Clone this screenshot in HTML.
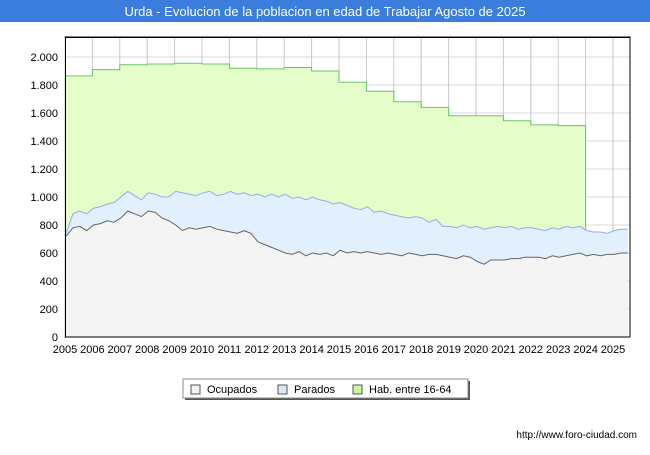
<!DOCTYPE html>
<html><head><meta charset="utf-8"><style>
body{margin:0;width:650px;height:450px;background:#fff;font-family:"Liberation Sans",sans-serif;overflow:hidden}
</style></head><body>
<svg width="650" height="450" xmlns="http://www.w3.org/2000/svg">
<rect x="0" y="0" width="650" height="22" fill="#3b7ddd"/>
<text x="325" y="16" text-anchor="middle" fill="#fff" font-size="13">Urda - Evolucion de la poblacion en edad de Trabajar Agosto de 2025</text>
<rect x="65" y="37" width="565" height="300" fill="#fff" stroke="#000"/>
<g id="grid"></g>
<g id="series"></g>
<g id="axes"></g>
<rect x="65.5" y="37.5" width="564.5" height="299.5" fill="none" stroke="#000"/>
<text x="637" y="438" text-anchor="end" font-size="10" fill="#000">http://www.foro-ciudad.com</text>
<g>
<rect x="185" y="381" width="285" height="19" fill="#555"/>
<rect x="183" y="379" width="285" height="19" fill="#fff" stroke="#888"/>
<rect x="191" y="385" width="9" height="9" fill="#f4f4f4" stroke="#555"/>
<text x="207" y="393" font-size="11">Ocupados</text>
<rect x="278" y="385" width="9" height="9" fill="#dde9fb" stroke="#555"/>
<text x="294" y="393" font-size="11">Parados</text>
<rect x="353" y="385" width="9" height="9" fill="#ccf5a0" stroke="#555"/>
<text x="369" y="393" font-size="11">Hab. entre 16-64</text>
</g>
</svg>
<script>
const years=[2005,2006,2007,2008,2009,2010,2011,2012,2013,2014,2015,2016,2017,2018,2019,2020,2021,2022,2023,2024,2025];
const habValues=[1865,1910,1945,1950,1955,1950,1920,1915,1925,1900,1820,1755,1680,1640,1580,1580,1545,1515,1510];
const activeValues=[740,880,900,880,920,930,950,960,1000,1040,1010,980,1030,1020,1000,1000,1040,1030,1020,1010,1030,1040,1010,1020,1040,1020,1030,1010,1020,1000,1020,1000,1020,990,1000,980,1000,980,970,950,960,940,920,910,930,890,900,880,870,860,850,860,850,820,840,790,790,780,800,780,790,770,780,790,780,790,770,780,780,770,760,780,770,790,780,790,760,750,750,740,760,770,770];
const ocupadosValues=[720,780,790,760,800,810,830,820,850,900,880,860,900,890,850,830,800,760,780,770,780,790,770,760,750,740,760,740,680,660,640,620,600,590,610,580,600,590,600,580,620,600,610,600,610,600,590,600,590,580,600,590,580,590,590,580,570,560,580,570,540,520,550,550,550,560,560,570,570,570,560,580,570,580,590,600,580,590,580,590,590,600,600];
const yTicks=[0,200,400,600,800,1000,1200,1400,1600,1800,2000];
const NS='http://www.w3.org/2000/svg';
const X=t=>65+(t-2005)*27.4;
const Y=v=>337-v*0.14;
const qt=i=>2005+i*0.25+0.04;
function mk(tag,attrs,parent){const e=document.createElementNS(NS,tag);for(const k in attrs)e.setAttribute(k,attrs[k]);document.getElementById(parent).appendChild(e);return e;}
yTicks.forEach(v=>{
 const l=mk('line',{x1:65,x2:630,y1:Y(v),y2:Y(v),stroke:'#d8d8d8'},'grid');
 
 
 const t=mk('text',{x:58,y:Y(v)+4,'text-anchor':'end','font-size':11},'axes');
 t.textContent=v.toLocaleString('de-DE');
 
 
});
years.forEach(y=>{
 const l=mk('line',{x1:X(y),x2:X(y),y1:37,y2:337,stroke:'#c8c8c8'},'grid');
 
 
 const t=mk('text',{x:X(y),y:353,'text-anchor':'middle','font-size':11},'axes');
 t.textContent=y;
 
 
});
// hab step
let hp='M'+X(2005)+','+Y(0);
habValues.forEach((v,i)=>{hp+=' L'+X(2005+i)+','+Y(v)+' L'+X(2006+i)+','+Y(v);});
const habEnd=X(2005+habValues.length);
let hl='M'+X(2005)+','+Y(habValues[0]);
habValues.forEach((v,i)=>{hl+=' L'+X(2005+i)+','+Y(v)+' L'+X(2006+i)+','+Y(v);});
const ha=mk('path',{d:hp+' L'+habEnd+','+Y(0)+' Z',fill:'#e5fdc8'},'series');


const hln=mk('path',{d:hl+' L'+habEnd+','+Y(activeValues[Math.round((2005+habValues.length-2005)/0.25)]||760),fill:'none',stroke:'#6cc46c','stroke-width':1},'series');


function line(arr){return arr.map((v,i)=>(i?'L':'M')+Math.min(X(qt(i)),630)+','+Y(v)).join(' ');}
function area(arr){return line(arr)+' L'+Math.min(X(qt(arr.length-1)),630)+','+Y(0)+' L'+X(qt(0))+','+Y(0)+' Z';}
const aa=mk('path',{d:area(activeValues),fill:'#e2effd'},'series');


const al=mk('path',{d:line(activeValues),fill:'none',stroke:'#8fb0e8','stroke-width':1},'series');


const oa=mk('path',{d:area(ocupadosValues),fill:'#f4f4f4'},'series');


const ol=mk('path',{d:line(ocupadosValues),fill:'none',stroke:'#666','stroke-width':1},'series');


</script>
</body></html>
